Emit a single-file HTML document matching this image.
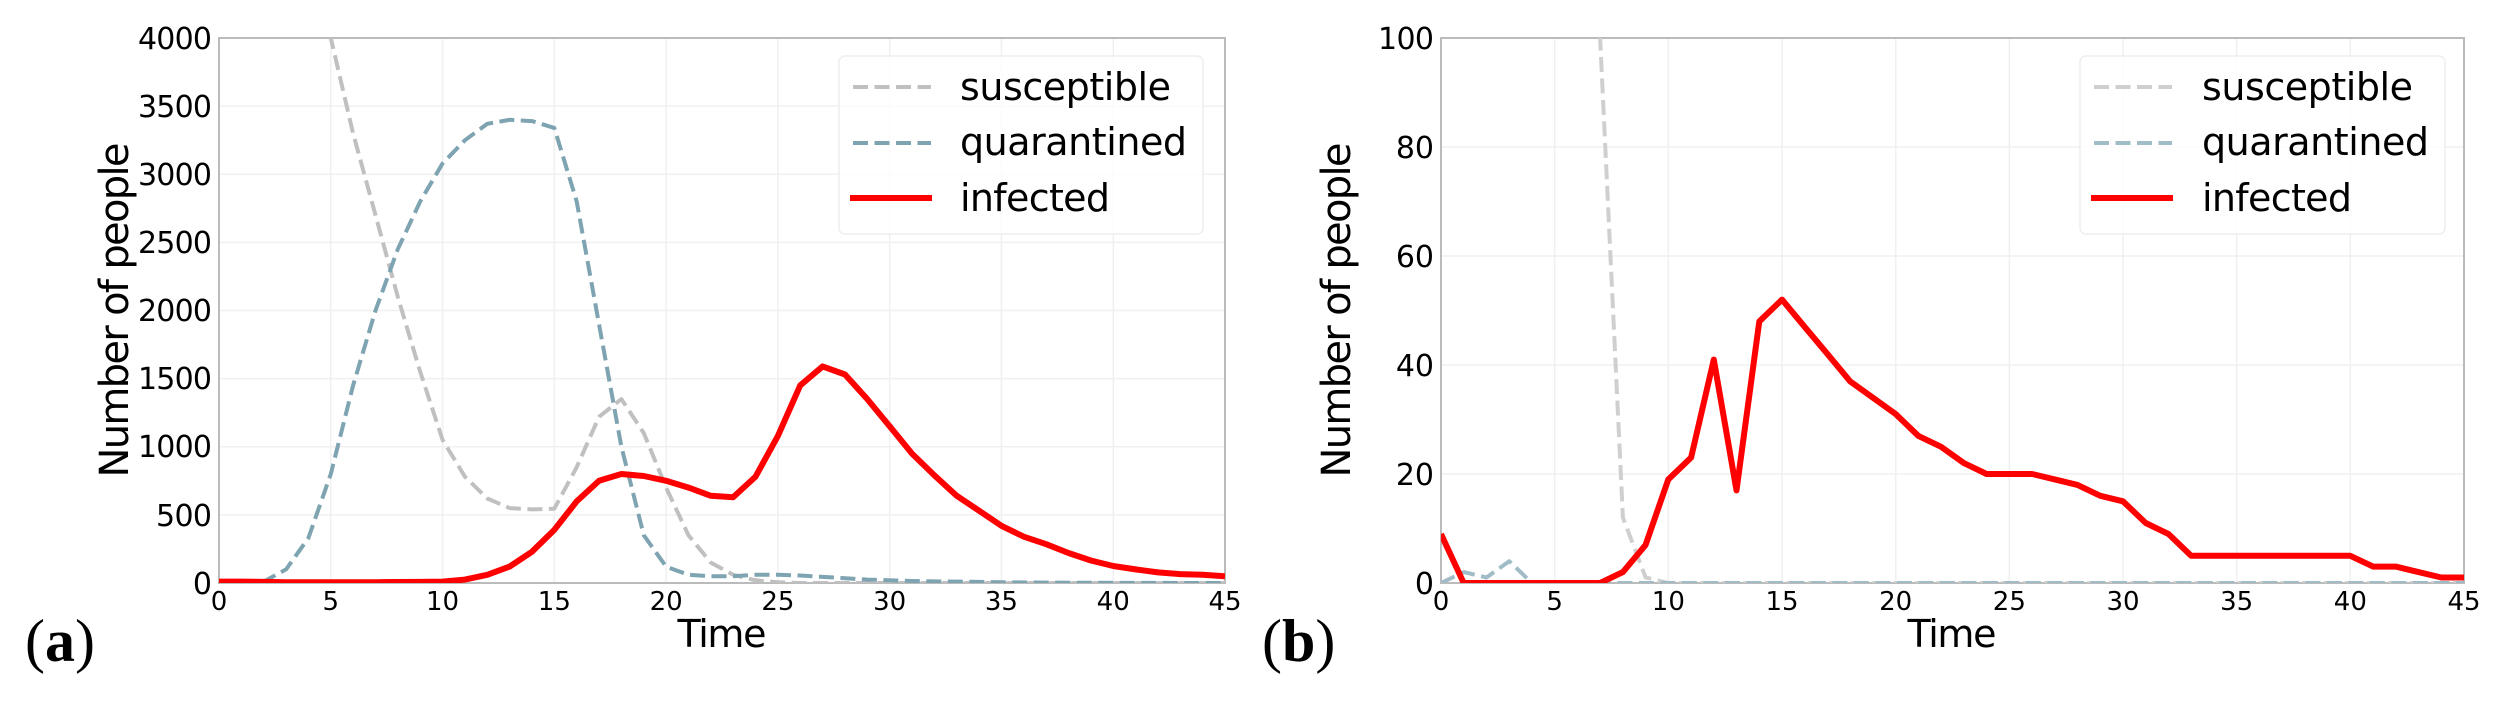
<!DOCTYPE html>
<html><head><meta charset="utf-8"><style>
html,body{margin:0;padding:0;background:#fff;width:2500px;height:710px;overflow:hidden}
svg{display:block}
text{font-family:"DejaVu Sans","Liberation Sans",sans-serif;fill:#000}
</style></head><body>
<svg id="s" width="2500" height="710" viewBox="0 0 2500 710" xmlns="http://www.w3.org/2000/svg">
<defs>
<clipPath id="ca"><rect x="219" y="38" width="1006" height="545"/></clipPath>
<clipPath id="cb"><rect x="1441" y="38" width="1023" height="545"/></clipPath>
</defs>
<g id="grid" stroke="#f0f0f0" stroke-width="1.5"></g>
<rect x="219" y="38" width="1006" height="545" fill="none" stroke="#bbb" stroke-width="2"/>
<rect x="1441" y="38" width="1023" height="545" fill="none" stroke="#bbb" stroke-width="2"/>
<g id="ga" clip-path="url(#ca)"></g>
<g id="gb" clip-path="url(#cb)"></g>
<g font-size="30">
<text x="212" y="49" text-anchor="end" textLength="74">4000</text>
<text x="212" y="117" text-anchor="end" textLength="74">3500</text>
<text x="212" y="185" text-anchor="end" textLength="74">3000</text>
<text x="212" y="253" text-anchor="end" textLength="74">2500</text>
<text x="212" y="321" text-anchor="end" textLength="74">2000</text>
<text x="212" y="389" text-anchor="end" textLength="74">1500</text>
<text x="212" y="457" text-anchor="end" textLength="74">1000</text>
<text x="212" y="526" text-anchor="end" textLength="56">500</text>
<text x="212" y="594" text-anchor="end">0</text>
<text x="1434" y="49" text-anchor="end" textLength="56">100</text>
<text x="1434" y="158" text-anchor="end">80</text>
<text x="1434" y="267" text-anchor="end">60</text>
<text x="1434" y="376" text-anchor="end">40</text>
<text x="1434" y="485" text-anchor="end">20</text>
<text x="1434" y="594" text-anchor="end">0</text>
</g>
<g id="xt" font-size="26" text-anchor="middle"></g>
<text transform="translate(128,310) rotate(-90)" font-size="40" text-anchor="middle" textLength="335">Number of people</text>
<text transform="translate(1350,310) rotate(-90)" font-size="40" text-anchor="middle" textLength="335">Number of people</text>
<text x="722" y="647" font-size="38" text-anchor="middle" textLength="89">Time</text>
<text x="1952" y="647" font-size="38" text-anchor="middle" textLength="89">Time</text>
<text x="25" y="661" font-size="60" style="font-family:'Liberation Serif',serif">(<tspan font-weight="bold">a</tspan>)</text>
<text x="1262" y="661" font-size="60" style="font-family:'Liberation Serif',serif">(<tspan font-weight="bold">b</tspan>)</text>
<rect x="839" y="56" width="364" height="178" rx="6" fill="#fff" fill-opacity="0.8" stroke="#eee" stroke-width="1.5"/>
<line x1="853" y1="87" x2="931" y2="87" stroke="#c0c0c0" stroke-width="4" stroke-dasharray="15,6.5"/>
<line x1="853" y1="143" x2="931" y2="143" stroke="#7ea3b1" stroke-width="4" stroke-dasharray="15,6.5"/>
<line x1="850" y1="198" x2="932" y2="198" stroke="#ff0000" stroke-width="6"/>
<g font-size="38">
<text x="960" y="100" textLength="211">susceptible</text>
<text x="960" y="155" textLength="227">quarantined</text>
<text x="960" y="211" textLength="150">infected</text>
</g>
<rect x="2080" y="56" width="365" height="178" rx="6" fill="#fff" fill-opacity="0.8" stroke="#eee" stroke-width="1.5"/>
<line x1="2094" y1="87" x2="2172" y2="87" stroke="#cfcfcf" stroke-width="4" stroke-dasharray="15,6.5"/>
<line x1="2094" y1="143" x2="2172" y2="143" stroke="#a0bcc6" stroke-width="4" stroke-dasharray="15,6.5"/>
<line x1="2091" y1="198" x2="2173" y2="198" stroke="#ff0000" stroke-width="6"/>
<g font-size="38">
<text x="2202" y="100" textLength="211">susceptible</text>
<text x="2202" y="155" textLength="227">quarantined</text>
<text x="2202" y="211" textLength="150">infected</text>
</g>
</svg>
<script>
(function(){
var NS="http://www.w3.org/2000/svg";
function el(p,n,a){var e=document.createElementNS(NS,n);for(var k in a)e.setAttribute(k,a[k]);p.appendChild(e);return e;}
var grid=document.getElementById('grid'),xt=document.getElementById('xt');
function axes(x0,w,ymax,step){
  for(var t=0;t<=45;t+=5){var x=x0+t*w/45;el(grid,'line',{x1:x,y1:38,x2:x,y2:583});
    var tx=el(xt,'text',{x:x,y:610});tx.textContent=t;}
  for(var v=0;v<=ymax;v+=step){var y=583-v*545/ymax;el(grid,'line',{x1:x0,y1:y,x2:x0+w,y2:y});}
}
axes(219,1006,4000,500);axes(1441,1023,100,20);
function line(g,x0,w,ymax,data,st){
  var pts=data.map(function(d){return (x0+d[0]*w/45).toFixed(1)+','+(583-d[1]*545/ymax).toFixed(1)}).join(' ');
  var a={points:pts,fill:'none','stroke-linejoin':'round'};for(var k in st)a[k]=st[k];el(g,'polyline',a);
}
function arr(v){return v.map(function(y,i){return [i,y]});}
var ga=document.getElementById('ga'),gb=document.getElementById('gb');
var sA=[[4,4800],[5,4000],[6,3300],[7,2700],[8,2100],[9,1550],[10,1050],[11,780],[12,620],[13,550],[14,540],[15,545],[16,850],[17,1220],[18,1350],[19,1100],[20,700],[21,350],[22,150],[23,60],[24,20],[25,5],[26,0],[45,0]];
var qA=arr([0,0,10,100,330,800,1450,2000,2450,2800,3080,3250,3370,3400,3390,3340,2800,1900,1000,350,120,60,50,50,60,60,55,45,35,25,20,15,12,10,8,5,4,3,2,2,1,1,1,0,0,0]);
var iA=arr([10,10,8,6,5,5,5,6,7,8,10,25,60,120,230,390,600,750,800,785,750,700,640,630,780,1080,1450,1590,1530,1350,1150,950,790,640,530,420,340,285,220,165,125,100,78,65,60,50]);
line(ga,219,1006,4000,sA,{stroke:'#c0c0c0','stroke-width':4,'stroke-dasharray':'15,6.5'});
line(ga,219,1006,4000,qA,{stroke:'#7ea3b1','stroke-width':4,'stroke-dasharray':'15,6.5'});
line(ga,219,1006,4000,iA,{stroke:'#ff0000','stroke-width':6});
var sB=[[6,3000],[7,100],[8,12],[9,1],[10,0],[45,0]];
var qB=[[0,0],[1,2],[2,1],[3,4],[4,0],[45,0]];
var iB=arr([9,0,0,0,0,0,0,0,2,7,19,23,41,17,48,52,47,42,37,34,31,27,25,22,20,20,20,19,18,16,15,11,9,5,5,5,5,5,5,5,5,3,3,2,1,1]);
line(gb,1441,1023,100,sB,{stroke:'#cfcfcf','stroke-width':4,'stroke-dasharray':'15,6.5'});
line(gb,1441,1023,100,qB,{stroke:'#a0bcc6','stroke-width':4,'stroke-dasharray':'15,6.5'});
line(gb,1441,1023,100,iB,{stroke:'#ff0000','stroke-width':6});
})();
</script>
</body></html>
